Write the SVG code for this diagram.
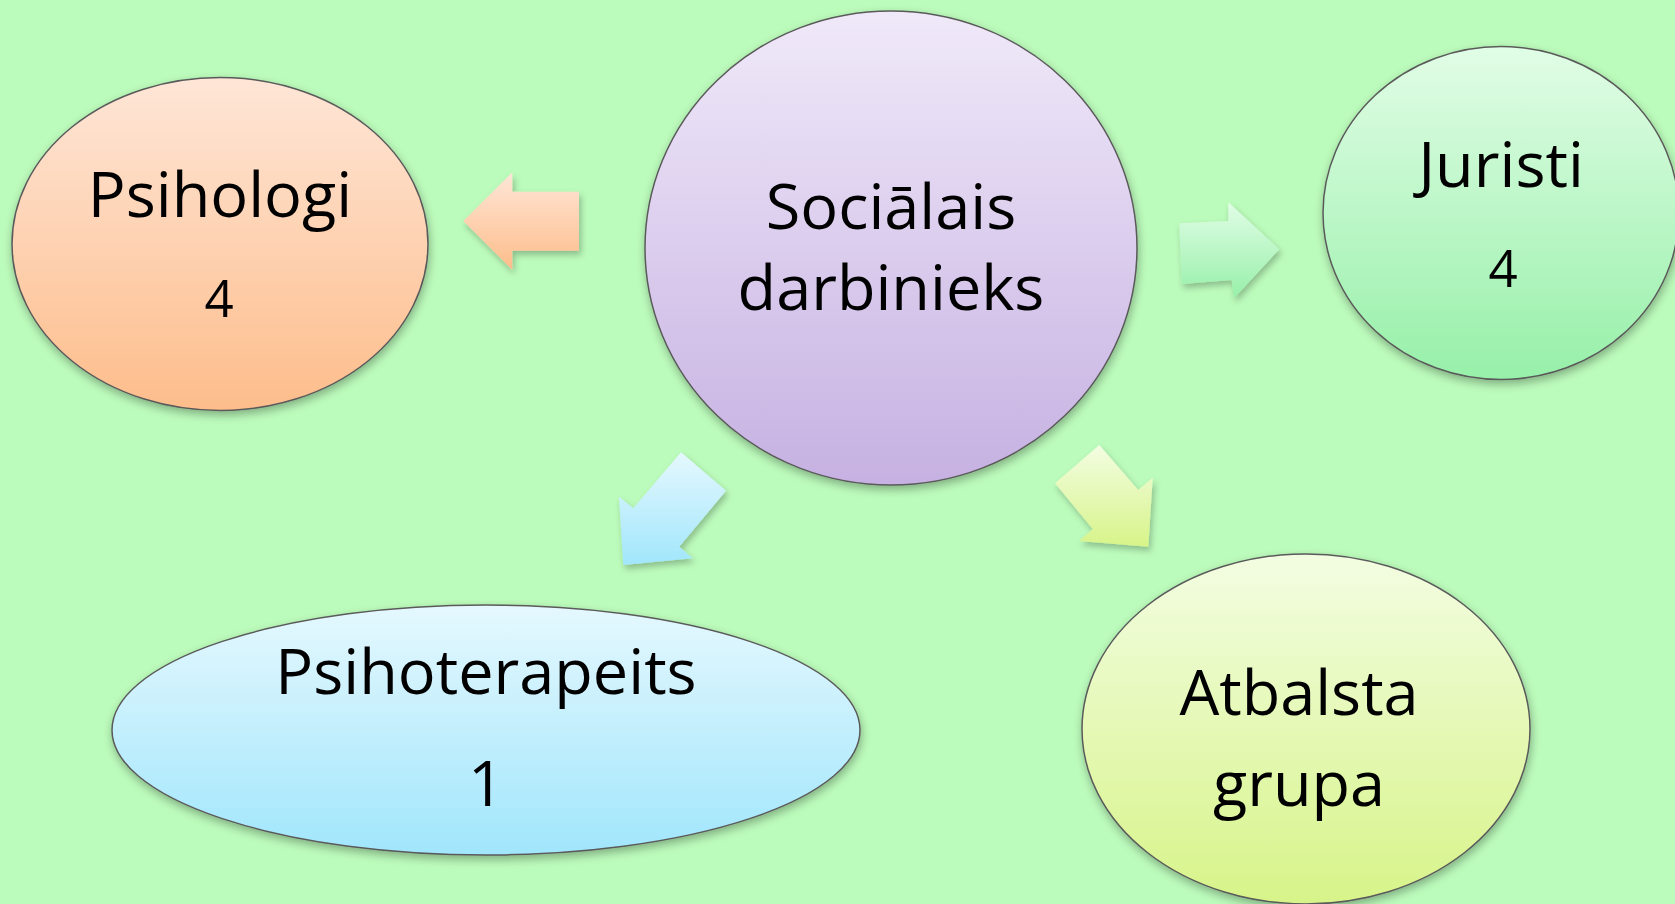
<svg xmlns="http://www.w3.org/2000/svg" width="1675" height="904" viewBox="0 0 1675 904">
  <style>
    .node { stroke: #5a5a5a; stroke-width: 1.5; filter: url(#shadow); }
    .arrow { stroke: none; filter: url(#ashadow); }
    .big { font-family: "Open Sans", "Liberation Sans", sans-serif; font-size: 63px; fill: #000; text-anchor: middle; }
    .num { font-family: "Open Sans", "Liberation Sans", sans-serif; font-size: 51px; fill: #000; text-anchor: middle; }
  </style>
  <defs>
    <filter id="shadow" x="-10%" y="-10%" width="120%" height="125%">
      <feDropShadow dx="1" dy="4" stdDeviation="4" flood-color="#000" flood-opacity="0.3"/>
    </filter>
    <filter id="ashadow" x="-20%" y="-20%" width="150%" height="150%">
      <feDropShadow dx="2" dy="4" stdDeviation="3" flood-color="#000" flood-opacity="0.25"/>
    </filter>
    <linearGradient id="gPeach" x1="0" y1="0" x2="0" y2="1">
      <stop offset="0" stop-color="#fee6d7"/>
      <stop offset="1" stop-color="#fdbd8b"/>
    </linearGradient>
    <linearGradient id="gPurple" x1="0" y1="0" x2="0" y2="1">
      <stop offset="0" stop-color="#f0e9f9"/>
      <stop offset="1" stop-color="#c6b1e2"/>
    </linearGradient>
    <linearGradient id="gMint" x1="0" y1="0" x2="0" y2="1">
      <stop offset="0" stop-color="#e1fde6"/>
      <stop offset="1" stop-color="#97f0a9"/>
    </linearGradient>
    <linearGradient id="gBlue" x1="0" y1="0" x2="0" y2="1">
      <stop offset="0" stop-color="#e5f8fe"/>
      <stop offset="1" stop-color="#a1e6fc"/>
    </linearGradient>
    <linearGradient id="gLime" x1="0" y1="0" x2="0" y2="1">
      <stop offset="0" stop-color="#f3fde2"/>
      <stop offset="1" stop-color="#d7f489"/>
    </linearGradient>
  </defs>

  <rect x="0" y="0" width="1675" height="904" fill="#bbfbbb"/>

  <g id="connectors">
    <polygon class="arrow" fill="url(#gPeach)" points="463.3,221 512.3,172.3 512.3,191.7 579,191.7 579,250.7 512.3,250.7 512.3,270"/>
    <polygon class="arrow" fill="url(#gMint)" points="1179.3,223.3 1228.3,221 1228.3,202.3 1279.3,249.3 1234,298.3 1231.7,280 1181.7,284"/>
    <polygon class="arrow" fill="url(#gBlue)" points="623.3,565 619,496.7 633.3,508.3 681,452.3 726,490.7 679.3,546.7 692.7,558.3"/>
    <polygon class="arrow" fill="url(#gLime)" points="1099.3,445 1138.3,490 1152.7,477.7 1148.3,546.7 1079.3,541 1092.7,529 1055,483.3"/>
  </g>

  <g id="node-psihologi">
    <ellipse class="node" cx="220" cy="244" rx="208" ry="166.5" fill="url(#gPeach)"/>
    <text class="big" x="220" y="217">Psihologi</text>
    <text class="num" x="219" y="317">4</text>
  </g>

  <g id="node-socialais">
    <ellipse class="node" cx="891" cy="248" rx="246" ry="237" fill="url(#gPurple)"/>
    <text class="big" x="891" y="229">Sociālais</text>
    <text class="big" x="891" y="310">darbinieks</text>
  </g>

  <g id="node-juristi">
    <ellipse class="node" cx="1501" cy="213" rx="178" ry="166.5" fill="url(#gMint)"/>
    <text class="big" x="1501" y="187">Juristi</text>
    <text class="num" x="1503" y="287">4</text>
  </g>

  <g id="node-psihoterapeits">
    <ellipse class="node" cx="486" cy="730" rx="374" ry="125" fill="url(#gBlue)"/>
    <text class="big" x="486" y="694">Psihoterapeits</text>
    <text class="big" x="486" y="806">1</text>
  </g>

  <g id="node-atbalsta">
    <ellipse class="node" cx="1306" cy="729" rx="224" ry="175" fill="url(#gLime)"/>
    <text class="big" x="1299" y="715">Atbalsta</text>
    <text class="big" x="1299" y="806">grupa</text>
  </g>
</svg>
